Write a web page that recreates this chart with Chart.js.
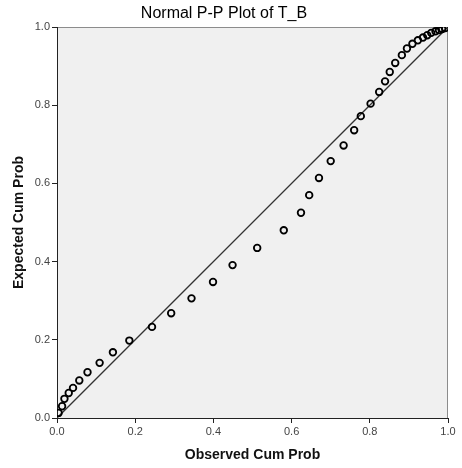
<!DOCTYPE html>
<html>
<head>
<meta charset="utf-8">
<script src="https://cdn.jsdelivr.net/npm/chart.js@4/dist/chart.umd.min.js"></script>
<style>
html,body{margin:0;padding:0;background:#fff;}
#c{display:block;}
</style>
</head>
<body>
<canvas id="c" width="462" height="468"></canvas>
<script>
const chartTitle = "Normal P-P Plot of T_B";
const xAxisTitle = "Observed Cum Prob";
const yAxisTitle = "Expected Cum Prob";
const tickValues = [0, 0.2, 0.4, 0.6, 0.8, 1.0];

const observedCumProb = [0.004,0.013,0.019,0.030,0.041,0.057,0.078,0.109,0.143,0.185,0.243,0.292,0.344,0.399,0.449,0.512,0.580,0.624,0.645,0.670,0.700,0.733,0.760,0.777,0.802,0.824,0.839,0.851,0.865,0.882,0.895,0.909,0.923,0.936,0.947,0.957,0.968,0.977,0.985,0.993];
const expectedCumProb = [0.013,0.030,0.049,0.064,0.077,0.096,0.117,0.141,0.168,0.198,0.233,0.268,0.306,0.348,0.391,0.435,0.480,0.525,0.570,0.614,0.657,0.697,0.736,0.772,0.804,0.834,0.861,0.885,0.908,0.928,0.945,0.957,0.966,0.973,0.979,0.985,0.989,0.992,0.995,0.997];
const refLine = [0, 1];

const points = observedCumProb.map((x, i) => ({x: x, y: expectedCumProb[i]}));
const linePts = refLine.map(v => ({x: v, y: v}));

const bgPlugin = {
  id: 'plotBg',
  beforeDraw(chart) {
    const {ctx, chartArea: a} = chart;
    ctx.save();
    ctx.fillStyle = '#f0f0f0';
    ctx.fillRect(a.left, a.top, a.right - a.left, a.bottom - a.top);
    ctx.strokeStyle = '#8c8c8c';
    ctx.lineWidth = 1;
    ctx.beginPath();
    ctx.moveTo(a.left, a.top + 0.5);
    ctx.lineTo(a.right - 0.5, a.top + 0.5);
    ctx.lineTo(a.right - 0.5, a.bottom);
    ctx.stroke();
    ctx.restore();
  }
};

new Chart(document.getElementById('c'), {
  type: 'scatter',
  data: {
    datasets: [
      {
        type: 'line',
        data: linePts,
        borderColor: '#333333',
        borderWidth: 1.3,
        pointRadius: 0,
        fill: false,
        order: 2
      },
      {
        data: points,
        pointRadius: 3.3,
        pointBorderWidth: 1.8,
        pointBorderColor: '#000000',
        pointBackgroundColor: 'rgba(0,0,0,0)',
        order: 1
      }
    ]
  },
  options: {
    responsive: false,
    animation: false,
    devicePixelRatio: 1,
    layout: { padding: { left: 0, right: 14, top: 0, bottom: 0 } },
    plugins: {
      legend: { display: false },
      tooltip: { enabled: false },
      title: {
        display: true,
        text: chartTitle,
        color: '#000',
        font: { family: 'Liberation Sans, Arial, sans-serif', size: 16, weight: 'normal' },
        padding: { top: 4, bottom: 3.8 }
      }
    },
    scales: {
      x: {
        type: 'linear',
        min: 0, max: 1,
        afterBuildTicks(s) { s.ticks = tickValues.map(v => ({value: v})); },
        afterFit(s) { s.height = 50; },
        ticks: {
          color: '#444',
          padding: 2,
          font: { family: 'Liberation Sans, Arial, sans-serif', size: 11 },
          callback: v => Number(v).toFixed(1),
          maxRotation: 0
        },
        grid: { drawOnChartArea: false, drawTicks: true, tickLength: 5, color: '#222', tickColor: '#222' },
        border: { color: '#222', width: 1 },
        title: {
          display: true,
          text: xAxisTitle,
          color: '#111',
          font: { family: 'Liberation Sans, Arial, sans-serif', size: 14, weight: 'bold' },
          padding: { top: 0, bottom: 4.5 }
        }
      },
      y: {
        type: 'linear',
        min: 0, max: 1,
        afterBuildTicks(s) { s.ticks = tickValues.map(v => ({value: v})); },
        afterFit(s) { s.width = 57; },
        ticks: {
          color: '#444',
          padding: 2,
          font: { family: 'Liberation Sans, Arial, sans-serif', size: 11 },
          callback: v => Number(v).toFixed(1)
        },
        grid: { drawOnChartArea: false, drawTicks: true, tickLength: 5, color: '#222', tickColor: '#222' },
        border: { color: '#222', width: 1 },
        title: {
          display: true,
          text: yAxisTitle,
          color: '#111',
          font: { family: 'Liberation Sans, Arial, sans-serif', size: 14, weight: 'bold' },
          padding: { top: 11, bottom: 0 }
        }
      }
    }
  },
  plugins: [bgPlugin]
});
</script>
</body>
</html>
